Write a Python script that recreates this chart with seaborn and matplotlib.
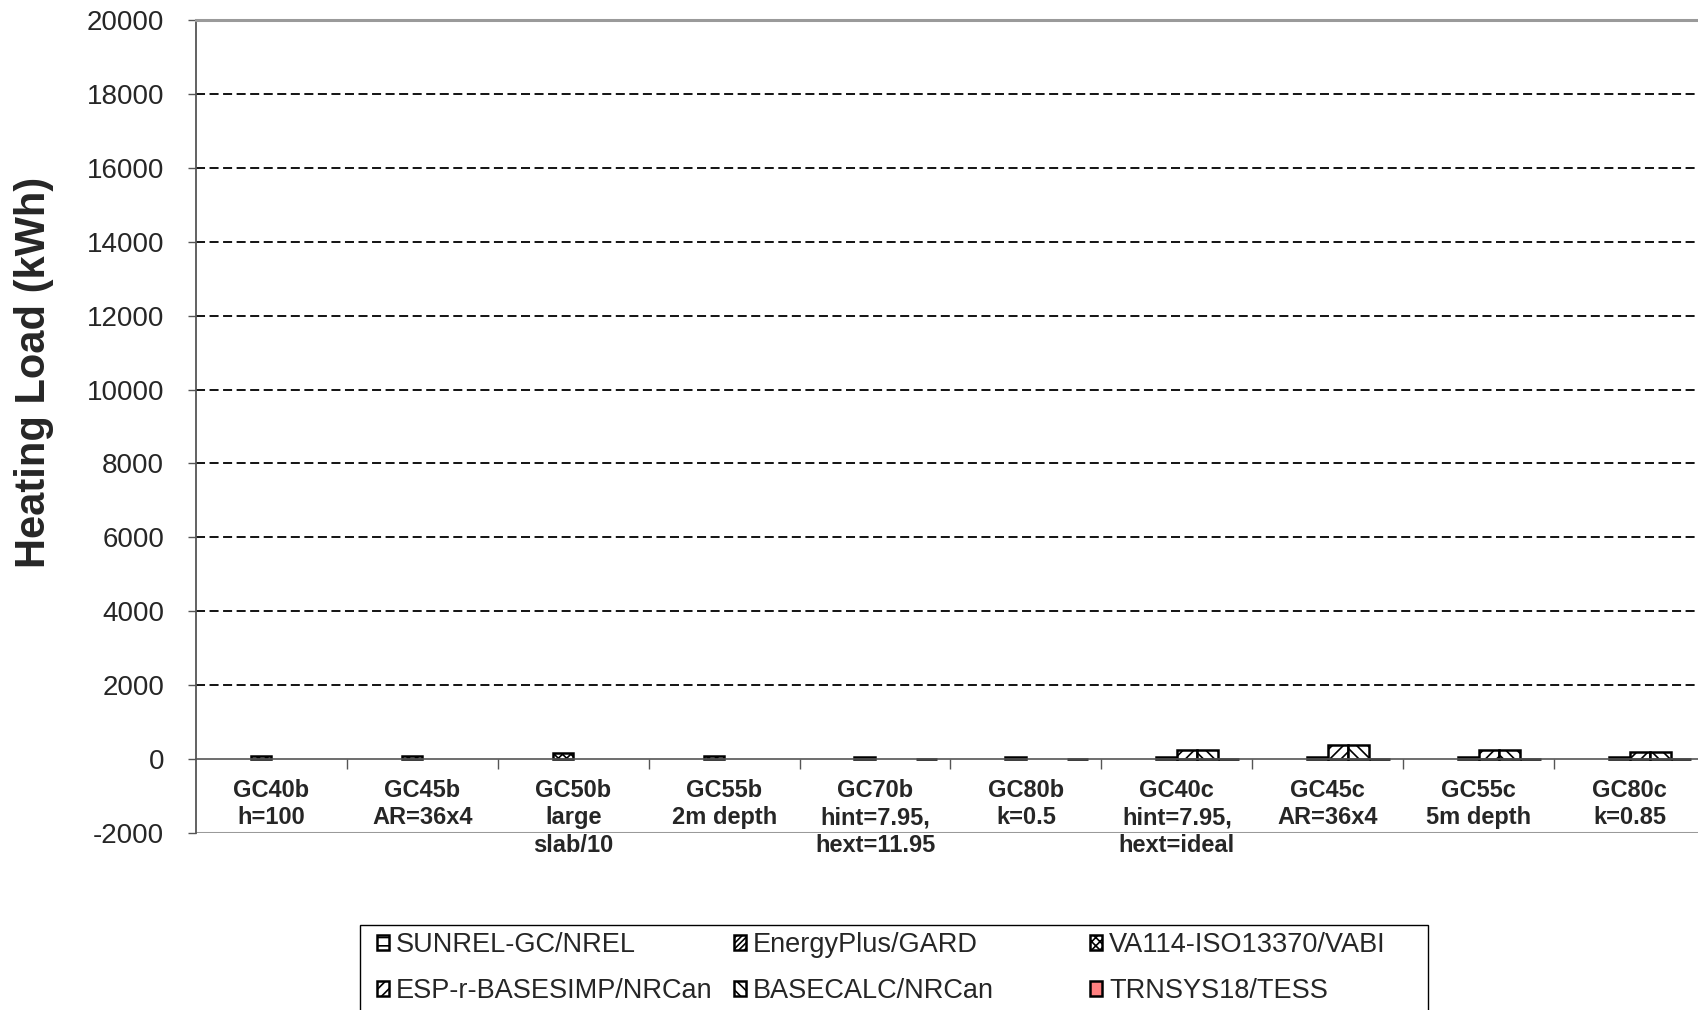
import numpy as np
import pandas as pd
import seaborn as sns
import matplotlib.pyplot as plt
import matplotlib.colors as mcolors
from matplotlib.patches import Patch, Rectangle

cases = ['GC40b\nh=100', 'GC45b\nAR=36x4', 'GC50b\nlarge\nslab/10', 'GC55b\n2m depth',
         'GC70b\nhint=7.95,\nhext=11.95', 'GC80b\nk=0.5', 'GC40c\nhint=7.95,\nhext=ideal',
         'GC45c\nAR=36x4', 'GC55c\n5m depth', 'GC80c\nk=0.85']
programs = ['SUNREL-GC/NREL', 'EnergyPlus/GARD', 'VA114-ISO13370/VABI',
            'ESP-r-BASESIMP/NRCan', 'BASECALC/NRCan', 'TRNSYS18/TESS']

nan = np.nan
sunrel = [nan, nan, nan, nan, nan, nan, nan, nan, nan, nan]
energyplus = [nan, nan, nan, nan, nan, nan, nan, nan, nan, nan]
va114 = [75, 80, 170, 75, 70, 70, 45, 60, 50, 50]
espr = [nan, nan, nan, nan, nan, nan, 250, 370, 250, 200]
basecalc = [nan, nan, nan, nan, nan, nan, 250, 370, 250, 200]
trnsys = [nan, nan, nan, nan, 15, 15, 15, 15, 15, 15]

fills = ['white', 'white', 'white', 'white', 'white', '#ff8080']
hatches = ['--', '//////', 'xxxx', '///', '\\\\\\', '']

rows = []
for prog, vals in zip(programs, [sunrel, energyplus, va114, espr, basecalc, trnsys]):
    for case, v in zip(cases, vals):
        if not np.isnan(v):
            rows.append({'case': case, 'program': prog, 'load': v})
df = pd.DataFrame(rows)

sns.set_theme(style='ticks')
plt.rcParams['font.family'] = ['Liberation Sans', 'DejaVu Sans']
plt.rcParams['axes.unicode_minus'] = False
plt.rcParams['hatch.linewidth'] = 1.2

# temporary unique colours so each bar can be styled by its program afterwards
tmp_colors = sns.color_palette('tab10', len(programs))
tmp_pal = dict(zip(programs, tmp_colors))
style_by_color = {mcolors.to_hex(c): (f, h) for c, f, h in zip(tmp_colors, fills, hatches)}

fig = plt.figure(figsize=(16.99, 10.10), dpi=100)
ax = fig.add_axes([196 / 1699, 177 / 1010, 1509 / 1699, 813 / 1010])

sns.barplot(data=df, x='case', y='load', hue='program', order=cases, hue_order=programs,
            palette=tmp_pal, saturation=1, width=0.82, errorbar=None, edgecolor='black',
            linewidth=1.8, legend=False, ax=ax)

for p in ax.patches:
    key = mcolors.to_hex(p.get_facecolor())
    if key in style_by_color:
        f, h = style_by_color[key]
        p.set_facecolor(f)
        p.set_hatch(h)

ax.set_xlim(-0.5, 9.5)
ax.set_ylim(-2000, 20000)
ax.set_yticks(np.arange(-2000, 20001, 2000))
ax.tick_params(axis='y', labelsize=20, length=6, width=1, color='#555555', pad=17)
ax.yaxis.grid(True, color='black', linestyle=(0, (5, 2.5)), linewidth=1.3)
gl = ax.get_ygridlines()
gl[0].set_visible(False)
gl[1].set_visible(False)
gl[-1].set_visible(False)

ax.axhline(-2000, color='#9a9a9a', linewidth=2.2, zorder=0.5)
ax.spines['top'].set_color('#9a9a9a')
ax.spines['top'].set_linewidth(2.2)
ax.spines['right'].set_visible(False)
ax.spines['left'].set_color('#555555')
ax.spines['left'].set_linewidth(1.3)
ax.spines['bottom'].set_position(('data', 0))
ax.spines['bottom'].set_color('#555555')
ax.spines['bottom'].set_linewidth(1.2)

ax.set_xlabel('')
ax.set_xticks(range(len(cases)))
ax.set_xticklabels(cases, fontsize=17, fontweight='bold', linespacing=1.25)
ax.set_xticks(np.arange(0.5, len(cases) - 0.5, 1), minor=True)
ax.tick_params(axis='x', which='major', length=0, pad=14)
ax.tick_params(axis='x', which='minor', length=7, width=1, color='#555555')

ax.set_ylabel('Heating Load (kWh)', fontsize=30, fontweight='bold')
ax.yaxis.set_label_coords(-0.094, 0.566)

# legend: three equal-width columns inside one box
handles = [Patch(facecolor=f, edgecolor='black', hatch=h, linewidth=1.8) for f, h in zip(fills, hatches)]
col_x = [377, 734, 1090]
for c, x in enumerate(col_x):
    idx = [c, c + 3]
    fig.legend([handles[i] for i in idx], [programs[i] for i in idx],
               loc='upper left', bbox_to_anchor=(x / 1699, 1 - 932 / 1010),
               frameon=False, fontsize=19.5, handlelength=0.45, handleheight=0.45,
               handletextpad=0.25, labelspacing=0.75, borderpad=0, borderaxespad=0)
fig.add_artist(Rectangle((360 / 1699, -0.05), (1428 - 360) / 1699, 0.05 + (1010 - 925) / 1010,
                         transform=fig.transFigure, fill=False, edgecolor='black', linewidth=1.0))

plt.savefig('out.png', dpi=100)
